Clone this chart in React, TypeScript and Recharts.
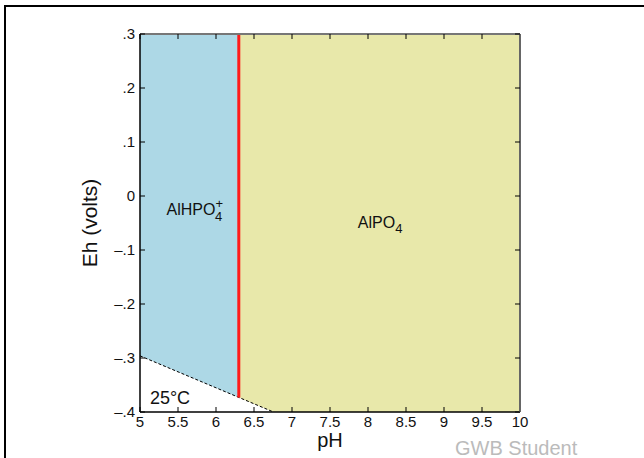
import React from "react";
import {
  ComposedChart,
  Area,
  Line,
  XAxis,
  YAxis,
  ReferenceLine,
  ReferenceDot,
  Label,
} from "recharts";

// pH breakpoints used by the fields
const phPoints = [5, 6.3, 6.757, 10];
// AlHPO4+ field: [bottom Eh, top Eh]
const aqueousField = [[-0.296, 0.3], [-0.373, 0.3], null, null];
// AlPO4 field
const mineralField = [null, [-0.373, 0.3], [-0.4, 0.3], [-0.4, 0.3]];
// lower water stability limit
const waterLimit = [-0.296, null, -0.4, null];

const phTicks = [5, 5.5, 6, 6.5, 7, 7.5, 8, 8.5, 9, 9.5, 10];
const ehTicks = [-0.4, -0.3, -0.2, -0.1, 0, 0.1, 0.2, 0.3];

const boundaryPh = 6.3;
const boundaryEh = [0.3, -0.373];

const data = phPoints.map((ph, i) => ({
  ph,
  aq: aqueousField[i],
  min: mineralField[i],
  water: waterLimit[i],
}));

const font = "'Liberation Sans', Arial, sans-serif";

const fmtEh = (v: number) => {
  if (Math.abs(v) < 1e-9) return "0";
  const d = Math.round(Math.abs(v) * 10);
  return (v < 0 ? "\u2013" : "") + "." + d;
};

const NoTick = () => <g />;

const SpeciesLabel = ({ viewBox, main, sub, sup }: any) => {
  const cx = viewBox?.x ?? 0;
  const cy = viewBox?.y ?? 0;
  return (
    <text
      x={cx}
      y={cy}
      textAnchor="middle"
      fontFamily={font}
      fontSize={16}
      fill="#111"
    >
      {main}
      {sup ? (
        <>
          <tspan dy={-7} fontSize={13}>
            {sup}
          </tspan>
          <tspan dx={-8} dy={13} fontSize={13}>
            {sub}
          </tspan>
        </>
      ) : (
        <tspan dy={5} fontSize={13}>
          {sub}
        </tspan>
      )}
    </text>
  );
};

export default function App() {
  return (
    <div style={{ position: "absolute", left: 0, top: 0, width: 644, height: 458 }}>
      <div
        style={{
          position: "absolute",
          left: 4,
          top: 5,
          width: 640,
          height: 453,
          borderLeft: "2px solid #000",
          borderTop: "2px solid #000",
        }}
      />
      <ComposedChart
        width={644}
        height={458}
        data={data}
        margin={{ top: 33, right: 123, bottom: 16, left: 80 }}
        style={{ position: "absolute", left: 0, top: 0 }}
      >
        <Area
          dataKey="aq"
          type="linear"
          fill="#ADD8E6"
          fillOpacity={1}
          stroke="none"
          isAnimationActive={false}
        />
        <Area
          dataKey="min"
          type="linear"
          fill="#E8E8AA"
          fillOpacity={1}
          stroke="none"
          isAnimationActive={false}
        />
        <XAxis
          dataKey="ph"
          type="number"
          domain={[5, 10]}
          ticks={phTicks}
          allowDataOverflow
          height={30}
          tickSize={-5}
          tickMargin={9}
          axisLine={{ stroke: "#000", strokeWidth: 1.5 }}
          tickLine={{ stroke: "#000" }}
          tick={{ fontSize: 15, fill: "#111", fontFamily: font }}
          interval={0}
        >
          <Label
            value="pH"
            position="insideBottom"
            offset={-5}
            style={{ fontSize: 20, fill: "#111", fontFamily: font }}
          />
        </XAxis>
        <XAxis
          xAxisId="top"
          orientation="top"
          dataKey="ph"
          type="number"
          domain={[5, 10]}
          ticks={phTicks}
          allowDataOverflow
          height={1}
          tickSize={-5}
          axisLine={{ stroke: "#777", strokeWidth: 2 }}
          tickLine={{ stroke: "#000" }}
          tick={<NoTick />}
          interval={0}
        />
        <YAxis
          type="number"
          domain={[-0.4, 0.3]}
          ticks={ehTicks}
          allowDataOverflow
          width={60}
          tickSize={-5}
          tickMargin={10}
          axisLine={{ stroke: "#000", strokeWidth: 1.5 }}
          tickLine={{ stroke: "#000" }}
          tickFormatter={fmtEh}
          tick={{ fontSize: 15, fill: "#111", fontFamily: font }}
          interval={0}
        >
          <Label
            value="Eh (volts)"
            angle={-90}
            position="insideLeft"
            offset={10}
            style={{ fontSize: 21, fill: "#111", fontFamily: font, textAnchor: "middle" }}
          />
        </YAxis>
        <YAxis
          yAxisId="right"
          orientation="right"
          type="number"
          domain={[-0.4, 0.3]}
          ticks={ehTicks}
          allowDataOverflow
          width={1}
          tickSize={-5}
          axisLine={{ stroke: "#666", strokeWidth: 2 }}
          tickLine={{ stroke: "#000" }}
          tick={<NoTick />}
          interval={0}
        />
        <Line
          dataKey="water"
          type="linear"
          stroke="#000"
          strokeWidth={1}
          strokeDasharray="3 2"
          dot={false}
          connectNulls
          isAnimationActive={false}
        />
        <ReferenceLine
          segment={[
            { x: boundaryPh, y: boundaryEh[0] },
            { x: boundaryPh, y: boundaryEh[1] },
          ]}
          stroke="#FF1A1A"
          strokeWidth={3}
        />
        <ReferenceDot
          x={5.72}
          y={-0.035}
          r={0}
          label={<SpeciesLabel main="AlHPO" sub="4" sup="+" />}
        />
        <ReferenceDot
          x={8.16}
          y={-0.06}
          r={0}
          label={<SpeciesLabel main="AlPO" sub="4" />}
        />
        <ReferenceDot
          x={5.13}
          y={-0.374}
          r={0}
          label={{
            value: "25°C",
            position: "right",
            offset: 0,
            style: { fontSize: 18, fill: "#111", fontFamily: font },
          }}
        />
      </ComposedChart>
      <div
        style={{
          position: "absolute",
          left: 455,
          top: 439,
          fontFamily: font,
          fontSize: 20,
          lineHeight: "18px",
          color: "#bbb",
          whiteSpace: "nowrap",
        }}
      >
        GWB Student
      </div>
    </div>
  );
}
